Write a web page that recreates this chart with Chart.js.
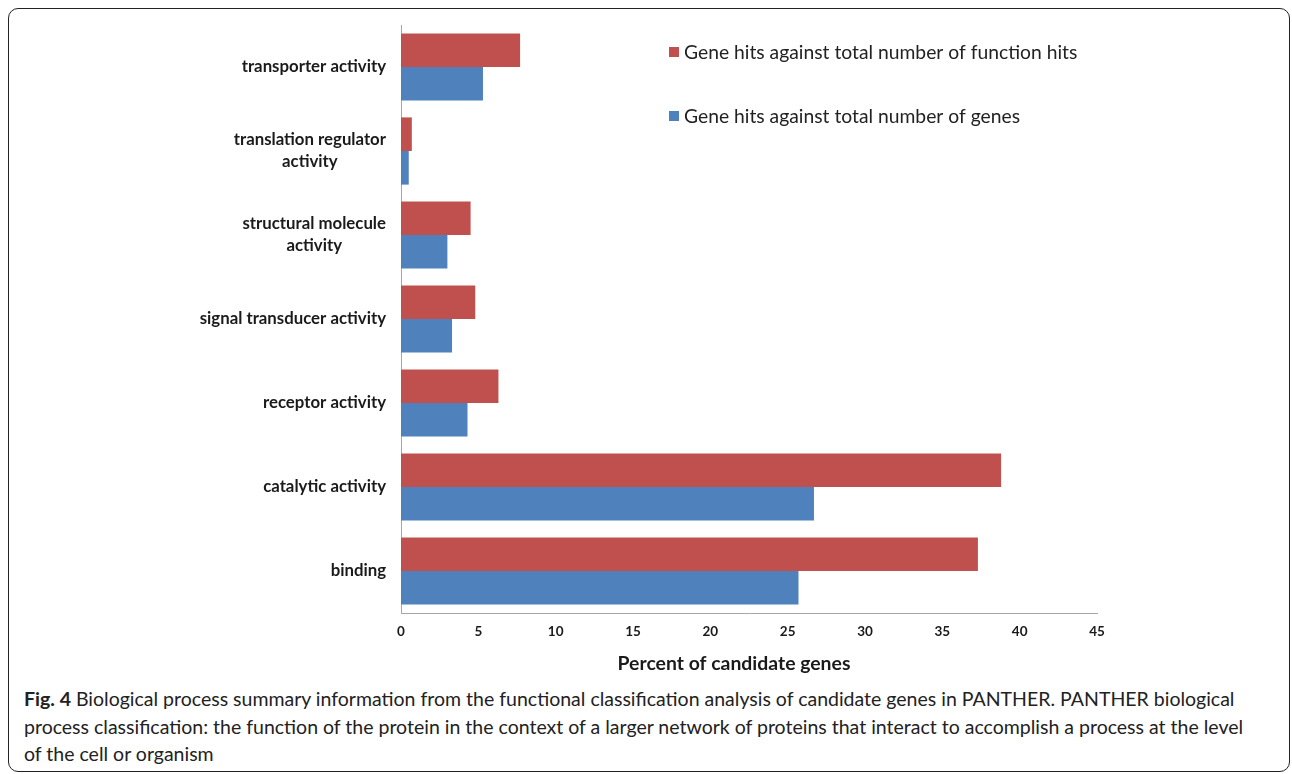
<!DOCTYPE html>
<html>
<head>
<meta charset="utf-8">
<title>Fig. 4</title>
<script src="https://cdn.jsdelivr.net/npm/chart.js@4.4.0/dist/chart.umd.min.js"></script>
<style>
  body { margin: 0; width: 1292px; height: 774px; overflow: hidden; position: relative; background: #fff; font-family: Lato, sans-serif; }
  .frame { position: absolute; left: 8px; top: 8px; width: 1280px; height: 762px; border: 1.5px solid #222; border-radius: 10px; }
  .chart-box { position: absolute; left: 0; top: 0; width: 1292px; height: 685px; }
  .caption { position: absolute; left: 24px; top: 685px; font-size: 19.5px; line-height: 27.5px; color: #222; white-space: nowrap; }
  .caption b { font-weight: 700; }
</style>
</head>
<body>
<div class="frame"></div>
<div class="chart-box"><canvas id="chart"></canvas></div>
<div class="caption">
  <b>Fig. 4</b> Biological process summary information from the functional classification analysis of candidate genes in PANTHER. PANTHER biological<br>
  process classification: the function of the protein in the context of a larger network of proteins that interact to accomplish a process at the level<br>
  of the cell or organism
</div>
<script>
// categories, top to bottom
const categories = [
  ['transporter activity'],
  ['translation regulator', 'activity'],
  ['structural molecule', 'activity'],
  ['signal transducer activity'],
  ['receptor activity'],
  ['catalytic activity'],
  ['binding']
];
const functionHits = [7.7, 0.7, 4.5, 4.8, 6.3, 38.8, 37.3];
const geneHits = [5.3, 0.5, 3.0, 3.3, 4.3, 26.7, 25.7];
const seriesNames = ['Gene hits against total number of function hits', 'Gene hits against total number of genes'];
const xMin = 0, xMax = 45, xStep = 5;
const axisTitle = 'Percent of candidate genes';

const RED = '#C0504D';
const BLUE = '#4F81BD';
const INK = '#1a1a1a';

// category labels, axis title and legend are painted by hand
const annotate = {
  id: 'annotate',
  afterDraw(chart) {
    const ctx = chart.ctx;
    const xs = chart.scales.x, ys = chart.scales.y;
    ctx.save();
    ctx.fillStyle = INK;
    ctx.textBaseline = 'middle';

    // multi-line labels are centred on each other, block right-aligned to the axis
    ctx.font = 'bold 16.8px Lato';
    ctx.textAlign = 'center';
    categories.forEach((lines, i) => {
      const cy = ys.getPixelForValue(i);
      const w = Math.max(...lines.map(l => ctx.measureText(l).width));
      const cx = xs.left - 15 - w / 2;
      lines.forEach((l, k) => ctx.fillText(l, cx, cy + (k - (lines.length - 1) / 2) * 22));
    });

    ctx.font = 'bold 19.4px Lato';
    ctx.fillText(axisTitle, (xs.left + xs.right) / 2 - 15, 664);

    // legend
    ctx.font = '19.3px Lato';
    ctx.textAlign = 'left';
    chart.data.datasets.forEach((ds, i) => {
      const ly = 52 + i * 64;
      const lx = chart.chartArea.left + 268;
      ctx.fillStyle = ds.backgroundColor;
      ctx.fillRect(lx, ly - 5, 10, 10);
      ctx.fillStyle = '#222';
      ctx.fillText(ds.label, lx + 15, ly + 1);
    });
    ctx.restore();
  }
};

new Chart(document.getElementById('chart'), {
  type: 'bar',
  data: {
    labels: categories,
    datasets: [
      { label: seriesNames[0], data: functionHits, backgroundColor: RED },
      { label: seriesNames[1], data: geneHits, backgroundColor: BLUE }
    ]
  },
  options: {
    indexAxis: 'y',
    responsive: true,
    maintainAspectRatio: false,
    animation: false,
    categoryPercentage: 0.8,
    barPercentage: 1.0,
    layout: { padding: { top: 25, right: 195, left: 0, bottom: 0 } },
    plugins: {
      legend: { display: false },
      tooltip: { enabled: false }
    },
    scales: {
      x: {
        min: xMin,
        max: xMax,
        grid: { display: false, drawTicks: false },
        border: { display: true, color: '#a6a6a6', width: 1 },
        ticks: {
          stepSize: xStep,
          padding: 11,
          color: INK,
          font: { family: 'Lato', weight: 'bold', size: 13.5 }
        },
        afterFit(scale) { scale.height = 72; }
      },
      y: {
        grid: { display: false, drawTicks: false },
        border: { display: true, color: '#a6a6a6', width: 1 },
        ticks: { display: false },
        afterFit(scale) { scale.width = 401; }
      }
    }
  },
  plugins: [annotate]
});
</script>
</body>
</html>
